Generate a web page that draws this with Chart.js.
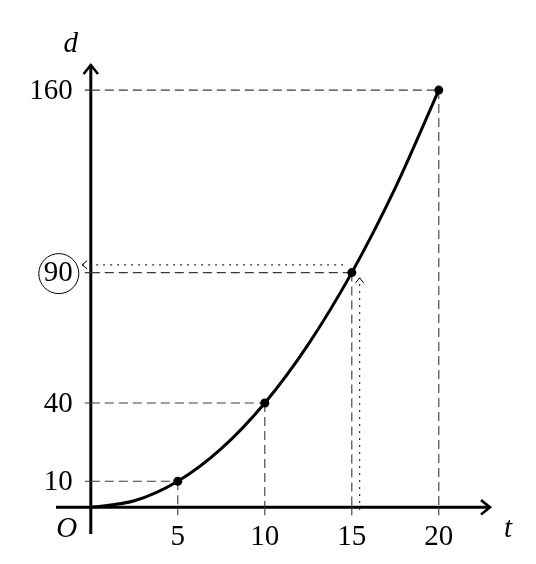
<!DOCTYPE html>
<html>
<head>
<meta charset="utf-8">
<script src="https://cdn.jsdelivr.net/npm/chart.js@4.4.0/dist/chart.umd.min.js"></script>
<style>
  html, body { margin: 0; padding: 0; background: #fff; }
</style>
</head>
<body>
<canvas id="chart" width="536" height="564"></canvas>
<script>
// values: d = distance, t = time
const tValues = [0, 2.5, 5, 7.5, 10, 12.5, 15, 17.5, 20];
const dValues = [0, 2.5, 10, 22.5, 40, 62.5, 90, 122.5, 160];
const markedT = [5, 10, 15, 20];
const xTicks = [5, 10, 15, 20];
const yTicks = [10, 40, 90, 160];
const circledTick = 90;
// dotted "reading" arrows (slightly offset from the exact point)
const readUpT = [15.45, 15.45];
const readUpD = [-1, 88];
const readLeftT = [14.5, -0.5];
const readLeftD = [93, 93];

const SERIF = '"Liberation Serif", "DejaVu Serif", serif';

const curveData = tValues.map((t, i) => ({ x: t, y: dValues[i] }));

const guideSets = [];
tValues.forEach((t, i) => {
  if (!markedT.includes(t)) return;
  const d = dValues[i];
  guideSets.push({
    data: [{ x: 0, y: d }, { x: t, y: d }],
    borderColor: "#3a3a3a",
    borderWidth: 1.1,
    borderDash: [9, 5],
    pointRadius: 0,
    order: 3
  });
  guideSets.push({
    data: [{ x: t, y: d }, { x: t, y: 0 }],
    borderColor: "#3a3a3a",
    borderWidth: 1.1,
    borderDash: [9, 5],
    pointRadius: 0,
    order: 3
  });
});

const dottedStyle = {
  borderColor: "#333",
  borderWidth: 1.2,
  borderDash: [2, 5],
  pointRadius: 0,
  order: 3
};

function chevron(ctx, x, y, angle, size, width) {
  ctx.save();
  ctx.translate(x, y);
  ctx.rotate(angle);
  ctx.beginPath();
  ctx.moveTo(-size, -size * 0.8);
  ctx.lineTo(0, 0);
  ctx.lineTo(-size, size * 0.8);
  ctx.lineWidth = width;
  ctx.lineJoin = "miter";
  ctx.strokeStyle = "#000";
  ctx.stroke();
  ctx.restore();
}

const axesPlugin = {
  id: "crossAxes",
  beforeDatasetsDraw(chart) {
    const { ctx, chartArea, scales } = chart;
    const xs = scales.x, ys = scales.y;
    const x0 = xs.getPixelForValue(0);
    const y0 = ys.getPixelForValue(0);
    ctx.save();
    ctx.strokeStyle = "#000";
    ctx.lineWidth = 3;
    ctx.beginPath();
    ctx.moveTo(chartArea.left, y0);
    ctx.lineTo(chartArea.right - 1, y0);
    ctx.moveTo(x0, chartArea.bottom - 2);
    ctx.lineTo(x0, chartArea.top + 1);
    ctx.stroke();
    chevron(ctx, chartArea.right - 1, y0, 0, 9, 2.6);
    chevron(ctx, x0, chartArea.top + 1, -Math.PI / 2, 9, 2.6);

    // tick marks
    ctx.lineWidth = 1.1;
    ctx.strokeStyle = "#3a3a3a";
    ctx.beginPath();
    xTicks.forEach((t) => {
      const px = xs.getPixelForValue(t);
      ctx.moveTo(px, y0);
      ctx.lineTo(px, y0 + 8);
    });
    yTicks.forEach((d) => {
      const py = ys.getPixelForValue(d);
      ctx.moveTo(x0 - 6, py);
      ctx.lineTo(x0, py);
    });
    ctx.stroke();

    // labels
    ctx.fillStyle = "#000";
    ctx.font = "29px " + SERIF;
    ctx.textAlign = "center";
    ctx.textBaseline = "middle";
    xTicks.forEach((t) => {
      ctx.fillText(String(t), xs.getPixelForValue(t), y0 + 30);
    });
    ctx.textAlign = "right";
    yTicks.forEach((d) => {
      ctx.fillText(String(d), x0 - 18, ys.getPixelForValue(d) + 1);
    });
    const cy = ys.getPixelForValue(circledTick);
    ctx.beginPath();
    ctx.lineWidth = 1;
    ctx.strokeStyle = "#000";
    ctx.arc(x0 - 32, cy + 1, 20, 0, Math.PI * 2);
    ctx.stroke();

    ctx.font = "italic 29px " + SERIF;
    ctx.textAlign = "center";
    ctx.fillText("d", x0 - 20, chartArea.top - 20);
    ctx.fillText("t", chartArea.right + 17, y0 + 22);
    ctx.fillText("O", x0 - 24, y0 + 22);
    ctx.restore();
  },
  afterDatasetsDraw(chart) {
    const { ctx, scales } = chart;
    const xs = scales.x, ys = scales.y;
    ctx.save();
    chevron(ctx, xs.getPixelForValue(readUpT[1]), ys.getPixelForValue(readUpD[1]), -Math.PI / 2, 5, 1);
    chevron(ctx, xs.getPixelForValue(readLeftT[1]), ys.getPixelForValue(readLeftD[1]), Math.PI, 5, 1);
    ctx.restore();
  }
};

new Chart(document.getElementById("chart"), {
  type: "line",
  data: {
    datasets: [
      {
        label: "d",
        data: curveData,
        borderColor: "#000",
        backgroundColor: "#000",
        borderWidth: 3,
        cubicInterpolationMode: "monotone",
        pointRadius: tValues.map((t) => (markedT.includes(t) ? 4.5 : 0)),
        pointBorderWidth: 0,
        order: 1
      },
      ...guideSets,
      {
        data: readUpT.map((t, i) => ({ x: t, y: readUpD[i] })),
        ...dottedStyle
      },
      {
        data: readLeftT.map((t, i) => ({ x: t, y: readLeftD[i] })),
        ...dottedStyle
      }
    ]
  },
  options: {
    responsive: false,
    animation: false,
    layout: { padding: { left: 56, right: 45, top: 64, bottom: 28 } },
    scales: {
      x: { type: "linear", min: -2, max: 23, display: false },
      y: { type: "linear", min: -11, max: 170, display: false }
    },
    plugins: {
      legend: { display: false },
      tooltip: { enabled: false }
    }
  },
  plugins: [axesPlugin]
});
</script>
</body>
</html>
